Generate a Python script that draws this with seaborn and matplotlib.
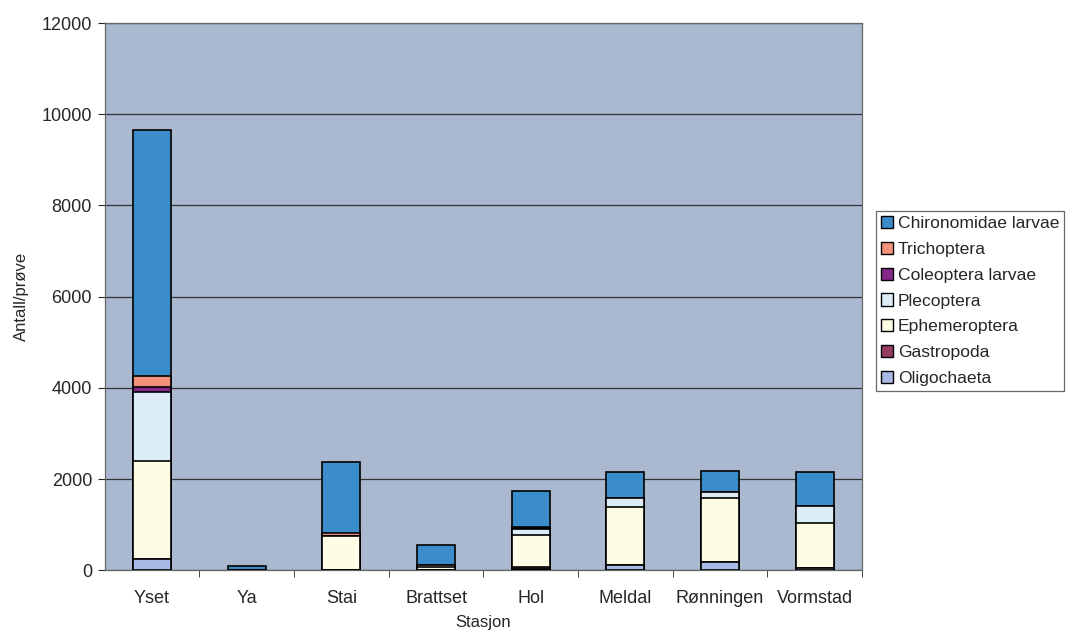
import matplotlib
matplotlib.use("Agg")
from matplotlib import pyplot as plt
from matplotlib.patches import Patch
import numpy as np
import pandas as pd
import seaborn as sns

# stations and taxa (bottom -> top in the stack)
stasjon = ["Yset", "Ya", "Stai", "Brattset", "Hol", "Meldal", "Rønningen", "Vormstad"]
oligochaeta = [240, 0, 0, 0, 30, 120, 170, 50]
gastropoda = [0, 0, 0, 10, 40, 0, 0, 0]
ephemeroptera = [2150, 10, 750, 70, 700, 1260, 1410, 985]
plecoptera = [1510, 0, 0, 30, 130, 215, 135, 375]
coleoptera = [110, 0, 0, 0, 20, 0, 0, 0]
trichoptera = [240, 0, 70, 0, 30, 0, 0, 0]
chironomidae = [5400, 90, 1550, 450, 780, 555, 465, 740]

taxa = ["Oligochaeta", "Gastropoda", "Ephemeroptera", "Plecoptera",
        "Coleoptera larvae", "Trichoptera", "Chironomidae larvae"]
colors = ["#a9b9e6", "#973b62", "#fdfde6", "#dcedf8",
          "#86278a", "#f3927b", "#3a8ccb"]

df = pd.DataFrame({"Stasjon": stasjon, "Oligochaeta": oligochaeta, "Gastropoda": gastropoda,
                   "Ephemeroptera": ephemeroptera, "Plecoptera": plecoptera,
                   "Coleoptera larvae": coleoptera, "Trichoptera": trichoptera,
                   "Chironomidae larvae": chironomidae})
cum = df[taxa].cumsum(axis=1)
cum["Stasjon"] = df["Stasjon"]

sns.set_style("white")
plt.rcParams['font.family'] = ['Liberation Sans', 'DejaVu Sans']

fig = plt.figure(figsize=(10.67, 6.4), dpi=100)
ax = fig.add_axes([0.098, 0.109, 0.71, 0.855])
ax.set_facecolor("#aab8d0")

# draw from the tallest cumulative level down so every layer shows
for t, c in reversed(list(zip(taxa, colors))):
    sns.barplot(data=cum, x="Stasjon", y=t, color=c, width=0.4, saturation=1,
                edgecolor="black", linewidth=1.2, ax=ax, zorder=3)

ax.set_ylim(0, 12000)
ax.set_xlim(-0.5, len(stasjon) - 0.5)
ax.set_yticks(np.arange(0, 12001, 2000))
ax.yaxis.grid(True, color="#333333", linewidth=0.9)
ax.set_axisbelow(True)
ax.set_ylabel("Antall/prøve", fontsize=12, labelpad=9)
ax.set_xlabel("Stasjon", fontsize=12, labelpad=6)
ax.tick_params(axis="y", labelsize=13, length=5, direction="out", left=True, pad=4)
ax.tick_params(axis="x", labelsize=13, length=0, pad=14)
ax.set_xticks(np.arange(len(stasjon)) + 0.5, minor=True)
ax.tick_params(axis="x", which="minor", length=5, direction="out", bottom=True)
for s in ax.spines.values():
    s.set_color("#666666")
    s.set_linewidth(0.9)

handles = [Patch(facecolor=c, edgecolor="black", label=t)
           for t, c in reversed(list(zip(taxa, colors)))]
leg = ax.legend(handles=handles, loc="center left", bbox_to_anchor=(1.018, 0.492),
                frameon=True, fancybox=False, edgecolor="#444444", fontsize=12.6,
                handlelength=0.7, handleheight=0.7, handletextpad=0.25,
                labelspacing=0.6, borderpad=0.3, borderaxespad=0)
leg.get_frame().set_linewidth(0.9)

fig.savefig("out.png", dpi=100)
